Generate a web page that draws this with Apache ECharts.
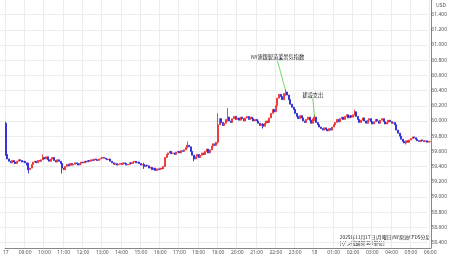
<!DOCTYPE html>
<html><head><meta charset="utf-8">
<script src="https://cdn.jsdelivr.net/npm/echarts@6/dist/echarts.min.js"></script>
<style>html,body{margin:0;padding:0;background:#fff}#c{width:450px;height:258px}</style>
</head><body><div id="c"></div>
<script>
// 5-minute closes, one row per hour (08:00 Nov 17 -> 06:00 Nov 18)
const closes08 = [59.56,59.50,59.47,59.45,59.48,59.46,59.44,59.47,59.49,59.48,59.46,59.47];
const closes09 = [59.45,59.42,59.36,59.38,59.43,59.46,59.47,59.45,59.48,59.47,59.49,59.52];
const closes10 = [59.50,59.53,59.49,59.47,59.50,59.52,59.48,59.46,59.49,59.47,59.44,59.38];
const closes11 = [59.36,59.40,59.43,59.41,59.44,59.42,59.43,59.45,59.44,59.42,59.44,59.46];
const closes12 = [59.45,59.47,59.46,59.48,59.47,59.49,59.48,59.50,59.49,59.48,59.50,59.51];
const closes13 = [59.52,59.51,59.50,59.49,59.50,59.47,59.45,59.43,59.44,59.42,59.43,59.44];
const closes14 = [59.43,59.45,59.44,59.42,59.43,59.45,59.44,59.46,59.47,59.45,59.46,59.44];
const closes15 = [59.42,59.43,59.40,59.42,59.41,59.38,59.39,59.36,59.38,59.35,59.37,59.36];
const closes16 = [59.38,59.37,59.40,59.52,59.56,59.58,59.60,59.57,59.58,59.56,59.59,59.60];
const closes17 = [59.58,59.61,59.60,59.62,59.65,59.68,59.66,59.60,59.55,59.50,59.53,59.56];
const closes18 = [59.52,59.55,59.58,59.56,59.60,59.63,59.58,59.62,59.67,59.70,59.68,59.72];
const closes19 = [59.95,60.03,59.98,59.94,59.97,60.02,60.05,60.00,59.98,60.03,60.06,60.02];
const closes20 = [60.04,60.01,60.05,60.03,60.00,60.04,60.06,60.02,60.05,60.03,60.00,60.02];
const closes21 = [60.00,59.97,59.94,59.96,59.93,59.97,60.00,59.98,60.04,60.10,60.15,60.12];
const closes22 = [60.20,60.30,60.35,60.32,60.28,60.36,60.38,60.34,60.28,60.22,60.18,60.15];
const closes23 = [60.10,60.06,60.03,60.07,60.04,60.00,59.98,60.02,60.05,60.01,59.97,60.03];
const closes00 = [60.05,59.98,59.95,59.92,59.90,59.88,59.91,59.89,59.87,59.90,59.88,59.92];
const closes01 = [59.95,59.98,60.02,59.99,60.03,60.05,60.02,60.06,60.08,60.04,60.07,60.05];
const closes02 = [60.08,60.12,60.06,60.02,59.98,60.01,60.04,60.00,59.97,60.01,60.03,59.99];
const closes03 = [59.96,59.99,60.02,60.00,59.97,60.01,60.03,59.99,59.96,59.98,60.01,59.99];
const closes04 = [59.97,59.98,59.95,59.88,59.84,59.80,59.76,59.73,59.71,59.74,59.72,59.75];
const closes05 = [59.77,59.79,59.78,59.76,59.74,59.73,59.75,59.74,59.73,59.74,59.72,59.73];
const closes06 = [59.73];
const firstOpen = 59.97;
// visible wicks: [time, high, low]
const wicks = [
  ['08:00',59.99,59.54],['09:10',59.45,59.31],['09:55',59.56,59.50],['10:55',59.44,59.31],
  ['15:10',59.45,59.37],['17:25',59.73,59.64],['17:45',59.52,59.47],['19:00',60.10,59.70],
  ['19:30',60.17,59.99],['21:20',59.97,59.90],['22:30',60.42,60.33],['00:00',60.08,60.00],
  ['02:05',60.15,60.07],['04:45',59.73,59.69]
];
const yTickMin = 58.4, yTickMax = 61.4, yTickStep = 0.2;
const noteNY = 'NY連銀製造業景気指数';
const noteCS = '建設支出';
const lineNY = [['22:05',60.79],['22:30',60.40]];
const lineCS = [['23:55',60.29],['00:00',60.06]];
const footnote1 = '2025年11月17日(月曜日)NY原油CFD5分足';
const footnote2 = '[ゲン戦通常300単位]';

const closes = [].concat(closes08,closes09,closes10,closes11,closes12,closes13,closes14,closes15,
  closes16,closes17,closes18,closes19,closes20,closes21,closes22,closes23,closes00,closes01,
  closes02,closes03,closes04,closes05,closes06);
const cats = [];
for (let i = 0; i < closes.length; i++) {
  const m = 8*60 + i*5; const h = Math.floor(m/60) % 24; const mm = m % 60;
  cats.push(String(h).padStart(2,'0') + ':' + String(mm).padStart(2,'0'));
}
const wickMap = {}; wicks.forEach(w => wickMap[w[0]] = w);
const candles = closes.map((c, i) => {
  const o = i === 0 ? firstOpen : closes[i-1];
  let hi = Math.max(o, c), lo = Math.min(o, c);
  const w = wickMap[cats[i]];
  if (w) { hi = Math.max(hi, w[1]); lo = Math.min(lo, w[2]); }
  return [o, c, lo, hi];
});
const isHour = (i) => cats[i].endsWith(':00');
const chart = echarts.init(document.getElementById('c'), null, {renderer:'canvas'});
const annot = (data, text) => ({
  type:'line', xAxisIndex:0, yAxisIndex:0, data: data, symbol:'circle', symbolSize:0.01, showSymbol:true,
  silent:true, itemStyle:{color:'#4cd04c'},
  lineStyle:{color:'#4cd04c', width:0.8}, z:5,
  label:{show:true, position:'top', distance:1, fontSize:5.2, color:'#222',
    fontFamily:'Noto Sans CJK JP', formatter: p => p.dataIndex === 0 ? text : ''},
  labelLayout:{hideOverlap:false}
});
chart.setOption({
  animation:false, backgroundColor:'#fff',
  grid:[{left:0, right:19, top:0, bottom:10}, {left:0, right:19, top:14.6, bottom:15.4}],
  xAxis:[{type:'category', data:cats, gridIndex:0, boundaryGap:true,
    axisLine:{lineStyle:{color:'#888', width:1}}, axisTick:{show:false},
    axisLabel:{interval:(i)=>isHour(i), fontSize:5, color:'#555', margin:2, fontFamily:'Noto Sans',
      formatter:(v)=> v==='08:00' ? '17' : (v==='00:00' ? '18' : v)},
    splitLine:{show:true, interval:(i)=>isHour(i), lineStyle:{color:'#ececec', width:1}}},
    {type:'category', data:cats, gridIndex:1, show:false}],
  yAxis:[{type:'value', gridIndex:0, position:'right', min:58.33, max:61.59, scale:true,
      axisLine:{show:true, lineStyle:{color:'#888'}}, axisLabel:{show:false}, axisTick:{show:false}, splitLine:{show:false}},
    {type:'value', gridIndex:1, position:'right', min:yTickMin, max:yTickMax, interval:yTickStep,
      axisLine:{show:false}, axisTick:{show:false},
      axisLabel:{fontSize:5, color:'#555', margin:4, fontFamily:'Noto Sans', formatter:v=>v.toFixed(3)},
      splitLine:{show:true, lineStyle:{color:'#ececec', width:1}}}],
  series:[
    {type:'candlestick', data:candles, xAxisIndex:0, yAxisIndex:0, barWidth:1.5,
      itemStyle:{color:'#ee3333', color0:'#2a2ad6', borderColor:'#ee3333', borderColor0:'#2a2ad6', borderWidth:0.9}},
    annot(lineNY, noteNY),
    annot(lineCS, noteCS)
  ],
  graphic:[
    {type:'text', left:436, top:3, style:{text:'USD', fontSize:5, fill:'#555', fontFamily:'Noto Sans'}},
    {type:'text', right:20, top:234, style:{text:footnote1 + '\n' + footnote2, fontSize:4.8, fill:'#222',
      align:'right', lineHeight:6, fontFamily:'Noto Sans CJK JP'}}
  ]
});
</script></body></html>
